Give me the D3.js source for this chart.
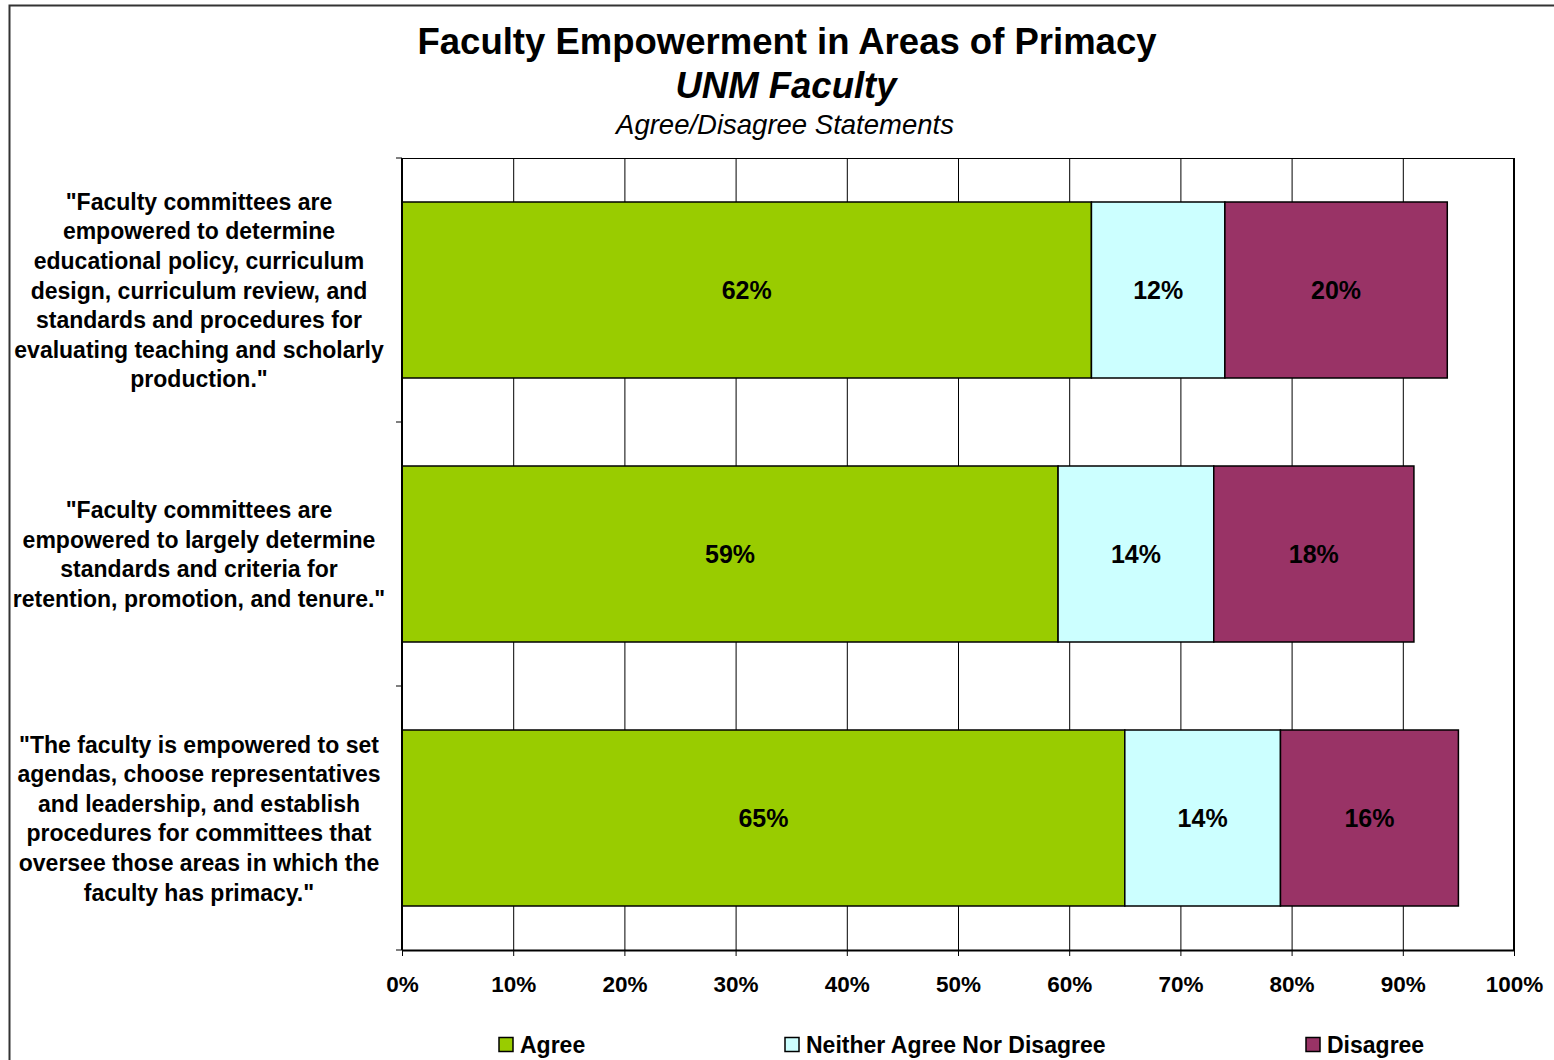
<!DOCTYPE html>
<html>
  <head>
    <title>Faculty Empowerment in Areas of Primacy</title>
    <script src="https://d3js.org/d3.v7.min.js"></script>
    <style>
      body { margin: 0; background: #fff; }
      text { font-family: "Liberation Sans", Arial, sans-serif; fill: #000; }
      .tick-label { font-size: 22.5px; font-weight: bold; }
      .cat-label { font-size: 23px; font-weight: bold; }
      .value-label { font-size: 25px; font-weight: bold; }
      .legend-label { font-size: 23px; font-weight: bold; }
    </style>
  </head>
  <body>
    <svg width="1554" height="1060"></svg>

    <script>
      const categories = ["q1", "q2", "q3"];
      const categoryLines = [
        ["\"Faculty committees are", "empowered to determine", "educational policy, curriculum",
         "design, curriculum review, and", "standards and procedures for",
         "evaluating teaching and scholarly", "production.\""],
        ["\"Faculty committees are", "empowered to largely determine",
         "standards and criteria for", "retention, promotion, and tenure.\""],
        ["\"The faculty is empowered to set", "agendas, choose representatives",
         "and leadership, and establish", "procedures for committees that",
         "oversee those areas in which the", "faculty has primacy.\""]
      ];
      const seriesNames = ["Agree", "Neither Agree Nor Disagree", "Disagree"];
      const agree = [62, 59, 65];
      const neither = [12, 14, 14];
      const disagree = [20, 18, 16];
      const xTicks = [0, 10, 20, 30, 40, 50, 60, 70, 80, 90, 100];
      const colors = ["#99CC00", "#CCFFFF", "#993366"];

      function main(){
        const svg = d3.select("svg");
        const left = 402, right = 1514, top = 158, bottom = 950;

        // outer chart frame (right/bottom edges fall outside the picture)
        svg.append("rect")
          .attr("x", 9.5).attr("y", 5.5)
          .attr("width", 1560).attr("height", 1070)
          .attr("fill", "none").attr("stroke", "#333").attr("stroke-width", 2);

        // titles
        svg.append("text").attr("x", 787).attr("y", 54).attr("text-anchor", "middle")
          .style("font-size", "36.5px").style("font-weight", "bold")
          .text("Faculty Empowerment in Areas of Primacy");
        svg.append("text").attr("x", 786).attr("y", 98).attr("text-anchor", "middle")
          .style("font-size", "36.5px").style("font-weight", "bold").style("font-style", "italic")
          .text("UNM Faculty");
        svg.append("text").attr("x", 785).attr("y", 134).attr("text-anchor", "middle")
          .style("font-size", "27.5px").style("font-style", "italic")
          .text("Agree/Disagree Statements");

        const x = d3.scaleLinear().domain([0, 100]).range([left, right]);
        const y = d3.scaleBand().domain(categories).range([top, bottom])
          .paddingInner(1/3).paddingOuter(1/6);

        // plot area
        svg.append("rect")
          .attr("x", left).attr("y", top).attr("width", right - left).attr("height", bottom - top)
          .attr("fill", "#fff").attr("stroke", "none");

        // gridlines
        svg.append("g").selectAll("line").data(xTicks.slice(1, -1)).join("line")
          .attr("x1", d => x(d) + 0.5).attr("x2", d => x(d) + 0.5)
          .attr("y1", top).attr("y2", bottom)
          .attr("stroke", "#000").attr("stroke-width", 1);

        // stacked bars
        const rows = categories.map((c, i) => ({ cat: c, vals: [agree[i], neither[i], disagree[i]] }));
        const segs = [];
        rows.forEach(r => {
          let acc = 0;
          r.vals.forEach((v, k) => {
            segs.push({ cat: r.cat, k, x0: acc, x1: acc + v, v });
            acc += v;
          });
        });

        svg.append("g").selectAll("rect").data(segs).join("rect")
          .attr("x", d => x(d.x0)).attr("width", d => x(d.x1) - x(d.x0))
          .attr("y", d => y(d.cat)).attr("height", y.bandwidth())
          .attr("fill", d => colors[d.k])
          .attr("stroke", "#000").attr("stroke-width", 1.5);

        svg.append("g").selectAll("text").data(segs).join("text")
          .attr("class", "value-label")
          .attr("x", d => (x(d.x0) + x(d.x1)) / 2)
          .attr("y", d => y(d.cat) + y.bandwidth() / 2 + 9)
          .attr("text-anchor", "middle")
          .text(d => d.v + "%");

        // plot border
        svg.append("line").attr("x1", left).attr("x2", right).attr("y1", top + 0.5).attr("y2", top + 0.5)
          .attr("stroke", "#000").attr("stroke-width", 1);
        svg.append("line").attr("x1", right).attr("x2", right).attr("y1", top).attr("y2", bottom)
          .attr("stroke", "#000").attr("stroke-width", 2);

        // x axis
        const xAxis = svg.append("g").attr("transform", `translate(0,${bottom})`)
          .call(d3.axisBottom(x).tickValues(xTicks).tickFormat(d => d + "%").tickSize(6).tickSizeOuter(0));
        xAxis.attr("font-family", null).attr("font-size", null);
        xAxis.select(".domain").attr("stroke", "#000").attr("stroke-width", 2);
        xAxis.selectAll(".tick line").attr("stroke", "#000");
        xAxis.selectAll(".tick text").attr("class", "tick-label").attr("dy", null).attr("y", 42);

        // y axis
        const yTicks = [0, 1, 2, 3].map(i => top + i * (bottom - top) / 3);
        svg.append("line").attr("x1", left).attr("x2", left).attr("y1", top).attr("y2", bottom)
          .attr("stroke", "#000").attr("stroke-width", 2);
        svg.append("g").selectAll("line").data(yTicks).join("line")
          .attr("x1", left - 6).attr("x2", left).attr("y1", d => d).attr("y2", d => d)
          .attr("stroke", "#000").attr("stroke-width", 1);

        // category labels
        const lineH = 29.6;
        categories.forEach((c, i) => {
          const lines = categoryLines[i];
          const cy = y(c) + y.bandwidth() / 2;
          const first = cy - (lines.length - 1) * lineH / 2 + 8.5;
          const t = svg.append("text").attr("class", "cat-label").attr("text-anchor", "middle");
          lines.forEach((l, j) => {
            t.append("tspan").attr("x", 199).attr("y", first + j * lineH).text(l);
          });
        });

        // legend
        const legendX = [499, 785, 1306];
        const lg = svg.append("g").selectAll("g").data(seriesNames).join("g")
          .attr("transform", (d, i) => `translate(${legendX[i]},1037.5)`);
        lg.append("rect").attr("width", 14).attr("height", 14)
          .attr("fill", (d, i) => colors[i]).attr("stroke", "#000").attr("stroke-width", 1.5);
        lg.append("text").attr("class", "legend-label").attr("x", 21).attr("y", 15.5).text(d => d);
      }
      main();
    </script>
  </body>
</html>
